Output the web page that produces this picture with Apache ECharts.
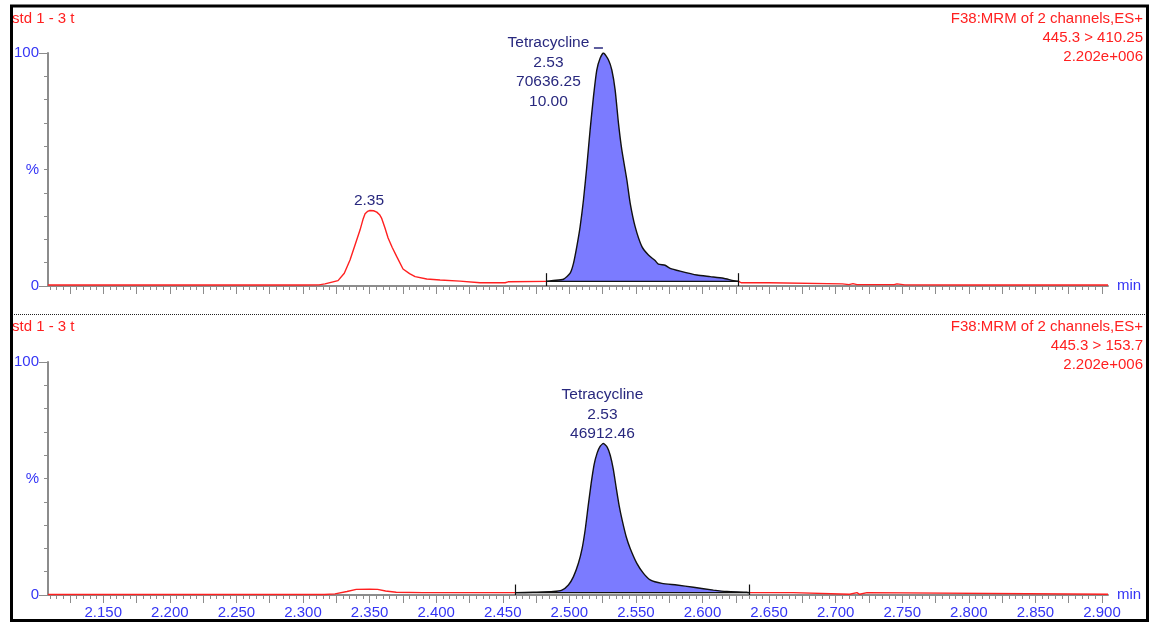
<!DOCTYPE html>
<html>
<head>
<meta charset="utf-8">
<script src="https://cdn.jsdelivr.net/npm/echarts@6/dist/echarts.min.js"></script>
<style>
html,body{margin:0;padding:0;background:#fff}
#chart{width:1153px;height:623px}
</style>
</head>
<body>
<div id="chart"></div>
<script>
// MRM chromatogram, channel 445.3 > 410.25: [retention time (min), relative intensity (%)]
const traceTop = [
  [2.1085,0.4],[2.1500,0.4],[2.2000,0.4],[2.2500,0.4],[2.3000,0.4],[2.3120,0.5],[2.3165,0.9],
  [2.3263,2.3],[2.3310,5.5],[2.3353,11.2],[2.3390,17.5],[2.3428,24.0],[2.3450,28.5],[2.3466,31.0],
  [2.3484,32.0],[2.3503,32.4],[2.3530,32.3],[2.3554,31.7],[2.3575,30.6],[2.3591,29.0],[2.3615,25.0],
  [2.3639,20.6],[2.3670,16.5],[2.3704,12.6],[2.3751,7.3],[2.3800,5.3],[2.3842,4.0],[2.3929,3.0],[2.4029,2.6],[2.4179,2.1],
  [2.4330,1.4],[2.4518,1.4],[2.4540,1.8],[2.4826,2.0],
  [2.4880,2.4],[2.4956,2.9],[2.5006,5.5],[2.5031,9.7],[2.5056,16.9],[2.5081,25.5],[2.5106,36.9],
  [2.5131,51.2],[2.5156,67.0],[2.5181,81.2],[2.5206,92.7],[2.5231,97.7],[2.5256,100],[2.5294,97.0],
  [2.5319,92.7],[2.5344,84.1],[2.5369,69.8],[2.5394,58.4],[2.5432,45.5],[2.5457,35.5],[2.5494,25.5],
  [2.5545,16.9],[2.5594,13.3],[2.5644,10.9],[2.5669,9.4],[2.5719,8.9],[2.5757,7.6],[2.5832,6.4],
  [2.5958,4.7],[2.6058,4.0],[2.6157,3.3],[2.6233,2.3],[2.6272,2.0],
  [2.6290,1.4],[2.6500,1.4],[2.6510,0.9],[2.7050,0.9],[2.7100,0.6],[2.7130,1.0],[2.7160,0.6],
  [2.7440,0.6],[2.7460,0.9],[2.7520,0.5],[2.8000,0.4],[2.9045,0.4]
];
// Channel 445.3 > 153.7
const traceBottom = [
  [2.1085,0.2],[2.2000,0.2],[2.3000,0.2],[2.3160,0.2],[2.3240,0.5],[2.3330,1.5],[2.3400,2.4],
  [2.3500,2.5],[2.3560,2.4],[2.3620,1.7],[2.3700,1.2],[2.3900,1.0],[2.4300,1.0],[2.4593,1.0],
  [2.4730,1.2],[2.4880,1.5],[2.4944,2.1],[2.4993,4.3],[2.5031,7.9],[2.5068,13.6],[2.5096,20.0],
  [2.5119,28.0],[2.5141,38.0],[2.5164,48.0],[2.5186,56.0],[2.5209,61.0],[2.5231,63.8],[2.5256,65.0],
  [2.5284,63.5],[2.5307,60.0],[2.5330,54.0],[2.5352,46.0],[2.5375,38.0],[2.5397,32.0],[2.5427,25.0],
  [2.5457,20.0],[2.5507,13.6],[2.5557,9.3],[2.5607,6.5],[2.5695,5.0],[2.5807,4.3],[2.5932,3.3],
  [2.6082,2.1],[2.6183,1.5],[2.6333,1.2],[2.6353,1.0],
  [2.6500,1.0],[2.6680,1.0],[2.6690,0.3],[2.7105,0.3],[2.7112,1.0],[2.7160,1.0],[2.7168,0.3],
  [2.7180,0.3],[2.7187,1.0],[2.7235,1.0],[2.7243,0.3],[2.9045,0.3]
];

// Integration windows [start, end] and baseline level (%)
const windowTop = [2.4826, 2.6272];
const baseTop = 2.0;
const windowBottom = [2.4593, 2.6353];
const baseBottom = 1.0;

// Peak annotations
const peakTopInfo = ['Tetracycline', '70636.25', '10.00'];
const peakBottomInfo = ['Tetracycline', '46912.46'];

// Header texts
const sampleName = 'std 1 - 3 t';
const headerTop = ['F38:MRM of 2 channels,ES+', '445.3 > 410.25', '2.202e+006'];
const headerBottom = ['F38:MRM of 2 channels,ES+', '445.3 > 153.7', '2.202e+006'];

// Axis ticks
const xMin = 2.1085, xMax = 2.9045;
const xLabelValues = [2.150,2.200,2.250,2.300,2.350,2.400,2.450,2.500,2.550,2.600,2.650,2.700,2.750,2.800,2.850,2.900];
const yLabelValues = [0, 50, 100];

const FONT = "'Liberation Sans', Arial, sans-serif";
const RED = '#ff2020';
const AXIS_BLUE = '#3535f5';
const NAVY = '#28287e';
const GREY = '#8c8c8c';
const FILL = '#7b7bff';

const majorTicks = [], minorTicks = [];
for (let i = 0; i * 0.005 + 2.110 <= 2.9001; i++) {
  const v = +(2.110 + i * 0.005).toFixed(3);
  if (Math.round(v * 1000) % 25 === 0) majorTicks.push(v); else minorTicks.push(v);
}
const yMinor = [10,20,30,40,50,60,70,80,90];

const chart = echarts.init(document.getElementById('chart'), null, {renderer: 'canvas'});

const grids = [
  {left: 48, top: 53, width: 1060, height: 233},
  {left: 48, top: 362, width: 1060, height: 233}
];

function xAxes(gi, showLabels) {
  return [{
    type: 'value', gridIndex: gi, min: xMin, max: xMax, position: 'bottom', offset: 0,
    name: 'min', nameLocation: 'end', nameGap: 9,
    nameTextStyle: {color: AXIS_BLUE, fontSize: 15, fontFamily: FONT, verticalAlign: 'middle', padding: [3,0,0,0]},
    axisLine: {show: true, onZero: false, lineStyle: {color: GREY, width: 2}},
    axisTick: {show: true, inside: false, length: 8, customValues: majorTicks, lineStyle: {color: GREY, width: 1}},
    axisLabel: {show: showLabels, customValues: xLabelValues, margin: 10, color: AXIS_BLUE,
      fontSize: 15, fontFamily: FONT, formatter: v => v.toFixed(3)},
    splitLine: {show: false}
  }, {
    type: 'value', gridIndex: gi, min: xMin, max: xMax, position: 'bottom', offset: 0,
    axisLine: {show: false, onZero: false},
    axisTick: {show: true, length: 4, customValues: minorTicks, lineStyle: {color: GREY, width: 1}},
    axisLabel: {show: false},
    splitLine: {show: false}
  }];
}

function yAxes(gi) {
  return [{
    type: 'value', gridIndex: gi, min: 0, max: 100, position: 'left', offset: 0,
    axisLine: {show: true, lineStyle: {color: GREY, width: 2}},
    axisTick: {show: true, length: 9, customValues: [0, 100], lineStyle: {color: GREY, width: 1}},
    axisLabel: {show: true, customValues: yLabelValues, margin: 9, color: AXIS_BLUE,
      fontSize: 15, fontFamily: FONT, formatter: v => (v === 50 ? '%' : String(v))},
    splitLine: {show: false}
  }, {
    type: 'value', gridIndex: gi, min: 0, max: 100, position: 'left', offset: 0,
    axisLine: {show: false},
    axisTick: {show: true, length: 4, customValues: yMinor, lineStyle: {color: GREY, width: 1}},
    axisLabel: {show: false},
    splitLine: {show: false}
  }];
}

function apexOf(points) {
  return points.reduce((a, b) => (b[1] > a[1] ? b : a));
}

function channelSeries(gi, trace, win, base, labelLines, labelOffset, showTopMark, minorPeakRange) {
  const xi = gi * 2, yi = gi * 2;
  const raw = trace.map(p => (p[0] <= win[0] || p[0] >= win[1]) ? p : [p[0], '-']);
  const peak = trace.filter(p => p[0] >= win[0] && p[0] <= win[1]);
  const apex = apexOf(peak);
  const series = [];

  const rawSeries = {
    type: 'line', xAxisIndex: xi, yAxisIndex: yi, data: raw, showSymbol: false, symbol: 'none',
    connectNulls: false, silent: true, z: 3,
    lineStyle: {color: RED, width: 1.4}
  };
  if (minorPeakRange) {
    const sub = trace.filter(p => p[0] >= minorPeakRange[0] && p[0] <= minorPeakRange[1]);
    const a = apexOf(sub);
    rawSeries.markPoint = {
      silent: true, symbol: 'circle', symbolSize: 0, animation: false,
      data: [{coord: a, label: {show: true, position: 'inside', offset: [-1, -10],
        formatter: a[0].toFixed(2), color: NAVY, fontSize: 15.5, fontFamily: FONT}}]
    };
  }
  series.push(rawSeries);

  const markData = [{
    coord: apex, symbol: 'circle', symbolSize: 0,
    label: {show: true, position: 'inside', offset: labelOffset, color: NAVY, fontSize: 15.5,
      fontFamily: FONT, lineHeight: 19.5, align: 'center',
      formatter: [labelLines[0], apex[0].toFixed(2)].concat(labelLines.slice(1)).join('\n')}
  }];
  if (showTopMark) {
    markData.push({coord: apex, symbol: 'rect', symbolSize: [9, 1.5], symbolOffset: [-5, -5],
      itemStyle: {color: NAVY}, label: {show: false}});
  }

  series.push({
    type: 'line', xAxisIndex: xi, yAxisIndex: yi, data: peak, showSymbol: false, symbol: 'none',
    silent: true, z: 4, smooth: 0.2,
    lineStyle: {color: '#111', width: 1.4},
    areaStyle: {color: FILL, opacity: 1, origin: base},
    markPoint: {silent: true, animation: false, data: markData}
  });

  series.push({
    type: 'line', xAxisIndex: xi, yAxisIndex: yi, data: [[win[0], base], [win[1], base]],
    showSymbol: false, symbol: 'none', silent: true, z: 5,
    lineStyle: {color: '#111', width: 1.3},
    markLine: {
      silent: true, symbol: 'none', animation: false, label: {show: false},
      lineStyle: {color: '#111', type: 'solid', width: 1.2},
      data: [
        [{coord: [win[0], 0]}, {coord: [win[0], base + 3.5]}],
        [{coord: [win[1], 0]}, {coord: [win[1], base + 3.5]}]
      ]
    }
  });
  return series;
}

function headerGraphics(yFirst, lines) {
  const g = [{
    type: 'text', left: 12, top: yFirst - 9,
    style: {text: sampleName, fill: RED, font: '15px ' + FONT}
  }];
  lines.forEach((t, i) => {
    g.push({type: 'text', right: 10, top: yFirst - 9 + i * 19.3,
      style: {text: t, fill: RED, font: '15px ' + FONT, align: 'right'}});
  });
  return g;
}

const option = {
  animation: false,
  backgroundColor: '#fff',
  grid: grids,
  xAxis: xAxes(0, false).concat(xAxes(1, true)),
  yAxis: yAxes(0).concat(yAxes(1)),
  series: [].concat(
    channelSeries(0, traceTop, windowTop, baseTop, peakTopInfo, [-55, 19], true, [2.30, 2.40]),
    channelSeries(1, traceBottom, windowBottom, baseBottom, peakBottomInfo, [-1, -29], false, null)
  ),
  graphic: [].concat(
    headerGraphics(20, headerTop),
    headerGraphics(328, headerBottom),
    [{
      type: 'line', shape: {x1: 12, y1: 314.5, x2: 1146, y2: 314.5},
      style: {stroke: '#222', lineWidth: 1, lineDash: [1, 1]}
    }, {
      type: 'rect', shape: {x: 11.5, y: 6, width: 1136, height: 614.5},
      style: {fill: null, stroke: '#000', lineWidth: 3}, z: 100
    }]
  )
};

chart.setOption(option);
</script>
</body>
</html>
